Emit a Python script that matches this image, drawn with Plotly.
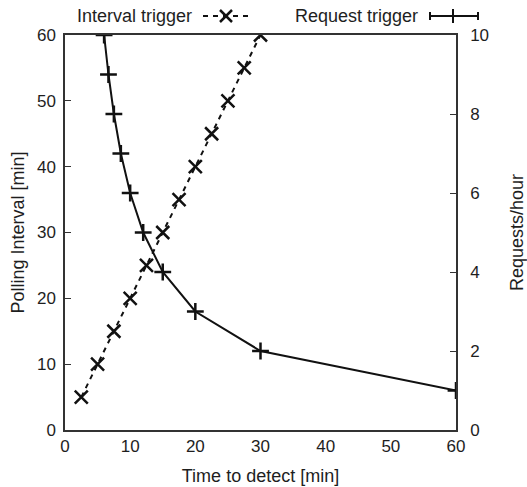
import plotly.graph_objects as go

# Interval trigger: time to detect [min] vs polling interval [min]
interval_time = [2.5, 5, 7.5, 10, 12.5, 15, 17.5, 20, 22.5, 25, 27.5, 30]
interval_poll = [5, 10, 15, 20, 25, 30, 35, 40, 45, 50, 55, 60]

# Request trigger: time to detect [min] vs requests/hour
request_time = [6, 6.67, 7.5, 8.57, 10, 12, 15, 20, 30, 60]
request_rate = [10, 9, 8, 7, 6, 5, 4, 3, 2, 1]

x_ticks = [0, 10, 20, 30, 40, 50, 60]
y_ticks = [0, 10, 20, 30, 40, 50, 60]
y2_ticks = [0, 2, 4, 6, 8, 10]

FONT = "Liberation Sans, Arial, sans-serif"
TXT = "#1e1e1e"
W, H = 527, 487
L, T = 65, 35
pw, ph = 391, 395
R, B = W - L - pw, H - T - ph


def px(xp):
    return (xp - L) / pw


def py(yp):
    return (T + ph - yp) / ph


fig = go.Figure()
fig.add_trace(go.Scatter(
    x=interval_time, y=interval_poll, mode="lines+markers",
    line=dict(color="#111", width=2, dash="5px,5px"),
    marker=dict(symbol="x-thin-open", size=13, line=dict(color="#111", width=2.5)),
    name="Interval trigger", showlegend=False, yaxis="y"))
fig.add_trace(go.Scatter(
    x=request_time, y=request_rate, mode="lines+markers",
    line=dict(color="#111", width=2),
    marker=dict(symbol="cross-thin-open", size=12, line=dict(color="#111", width=2.5)),
    name="Request trigger", showlegend=False, yaxis="y2"))

axis_common = dict(showgrid=False, zeroline=False, showline=True, linecolor="#333",
                   linewidth=1.5, automargin=False,
                   tickfont=dict(family=FONT, size=17, color=TXT),
                   title_font=dict(family=FONT, size=18, color=TXT))

fig.update_layout(
    width=W, height=H, margin=dict(l=L, r=R, t=T, b=B),
    paper_bgcolor="white", plot_bgcolor="white",
    xaxis=dict(range=[0, 60], tickvals=x_ticks, ticks="", mirror=True,
               title=dict(text="Time to detect [min]", standoff=14), **axis_common),
    yaxis=dict(range=[0, 60], tickvals=y_ticks, ticks="inside", ticklen=6, tickcolor="#333",
               ticklabelstandoff=4,
               title=dict(text="Polling Interval [min]", standoff=8), **axis_common),
    yaxis2=dict(range=[0, 10], tickvals=y2_ticks, ticks="inside", ticklen=6, tickcolor="#333",
                overlaying="y", side="right", ticklabelstandoff=9,
                title=dict(text="Requests/hour", standoff=22), **axis_common),
)

# Manual legend (text before sample, as in the reference)
ly = py(16)
fig.add_annotation(x=px(194), y=ly, xref="paper", yref="paper", text="Interval trigger",
                   showarrow=False, xanchor="right", yanchor="middle",
                   font=dict(family=FONT, size=18, color=TXT))
fig.add_annotation(x=px(420), y=ly, xref="paper", yref="paper", text="Request trigger",
                   showarrow=False, xanchor="right", yanchor="middle",
                   font=dict(family=FONT, size=18, color=TXT))

shapes = []
# interval sample: dashed line + X
shapes.append(dict(type="line", xref="paper", yref="paper", x0=px(203), x1=px(250), y0=ly, y1=ly,
                   line=dict(color="#111", width=2, dash="5px,5px")))
cx, s = 226, 6
shapes.append(dict(type="line", xref="paper", yref="paper", x0=px(cx - s), x1=px(cx + s),
                   y0=py(16 - s), y1=py(16 + s), line=dict(color="#111", width=2.5)))
shapes.append(dict(type="line", xref="paper", yref="paper", x0=px(cx - s), x1=px(cx + s),
                   y0=py(16 + s), y1=py(16 - s), line=dict(color="#111", width=2.5)))
# request sample: solid line with end caps + cross
shapes.append(dict(type="line", xref="paper", yref="paper", x0=px(430), x1=px(478), y0=ly, y1=ly,
                   line=dict(color="#111", width=2)))
for xc, hs in [(430, 4), (478, 4), (453, 7)]:
    shapes.append(dict(type="line", xref="paper", yref="paper", x0=px(xc), x1=px(xc),
                       y0=py(16 - hs), y1=py(16 + hs), line=dict(color="#111", width=2)))
fig.update_layout(shapes=shapes)

fig.write_html("out.html", config={"displayModeBar": False},
               post_script="document.body.style.margin='0';")
